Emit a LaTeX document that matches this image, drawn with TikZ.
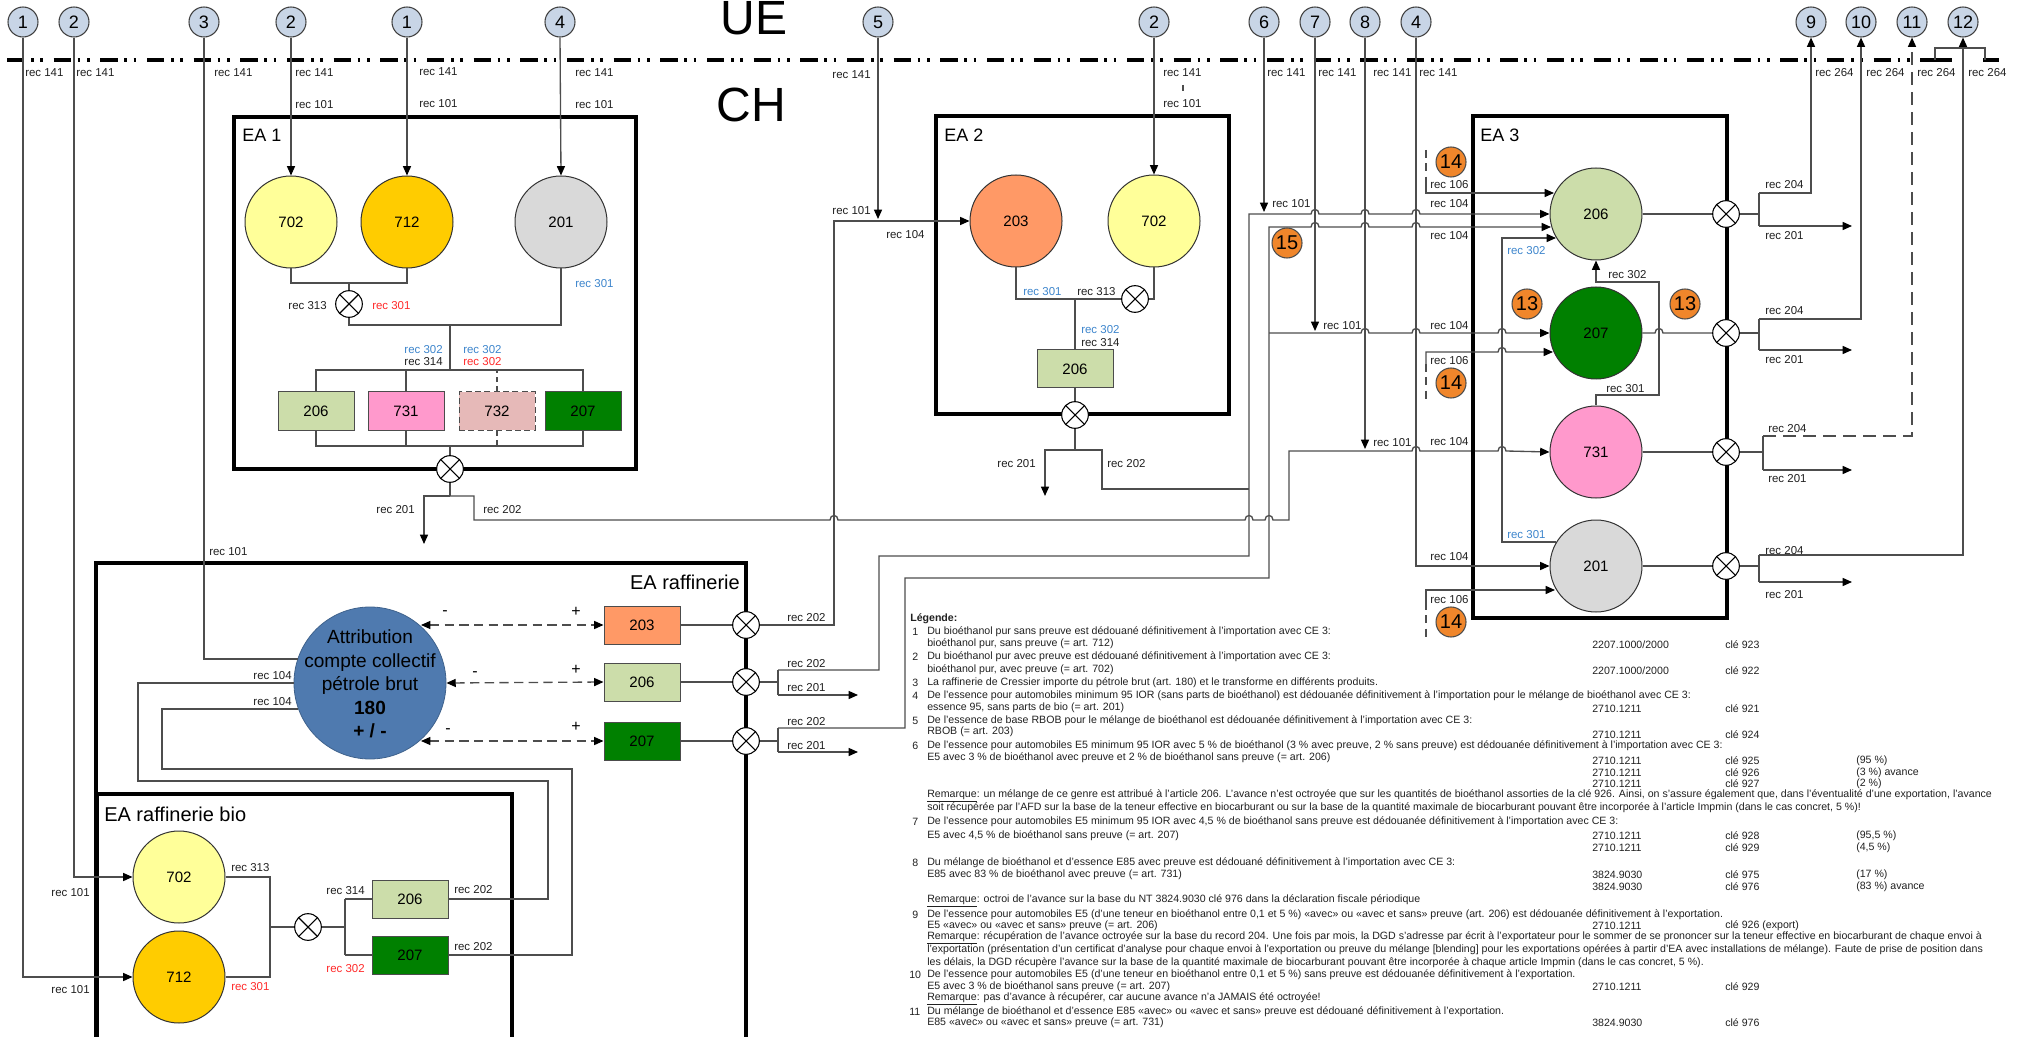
\documentclass[tikz,border=0pt]{standalone}
\usepackage{fontspec}
\setmainfont{Liberation Sans}
\usetikzlibrary{arrows.meta}
\definecolor{topc}{HTML}{C8D5E6}
\definecolor{yel}{HTML}{FFFF99}
\definecolor{gold}{HTML}{FFCC00}
\definecolor{gry}{HTML}{D9D9D9}
\definecolor{salm}{HTML}{FF9966}
\definecolor{lgr}{HTML}{CCDDAA}
\definecolor{dgr}{HTML}{008000}
\definecolor{pnk}{HTML}{FF99CC}
\definecolor{dpk}{HTML}{E6B9B8}
\definecolor{attrc}{HTML}{4F7AAF}
\definecolor{orng}{HTML}{F0862B}
\definecolor{lblue}{HTML}{3D85CC}
\definecolor{lred}{HTML}{FF2A2A}
\definecolor{lnc}{HTML}{4D4D4D}
\definecolor{txtc}{HTML}{202020}
\newcounter{lbc}
\newcommand\lbw[3][]{\stepcounter{lbc}\node[lbl,anchor=west,#1] (lab\thelbc) at (#2) {#3};}
\newcommand\lbe[3][]{\stepcounter{lbc}\node[lbl,anchor=east,#1] (lab\thelbc) at (#2) {#3};}
\newcommand\legt[3]{\stepcounter{lbc}\node[leg] (leg\thelbc) at (#1,#2) {#3};}
\newcommand\jmpr[2]{-- ({#1-4},#2) .. controls ({#1-4},{#2-6}) and ({#1+4},{#2-6}) .. ({#1+4},#2)}
\begin{document}
\begin{tikzpicture}[x=0.75pt,y=-0.75pt,
  font=\fontsize{8.6}{10}\selectfont,
  conn/.style={draw=lnc, line width=1pt},
  arr/.style={conn, -{Triangle[length=7pt,width=6pt,color=black]}},
  dar/.style={conn, dash pattern=on 7pt off 4pt, {Triangle[length=7pt,width=6pt,color=black]}-{Triangle[length=7pt,width=6pt,color=black]}},
  lbl/.style={inner sep=0pt, font=\fontsize{8.6}{10}\selectfont, text=txtc},
  bl/.style={text=lblue}, rd/.style={text=lred},
  topcirc/.style={circle, draw=black!75, line width=0.8pt, fill=topc, minimum size=22.5pt, inner sep=0pt, font=\fontsize{13.5}{14}\selectfont},
  art/.style={circle, draw=black!80, line width=0.75pt, minimum size=69pt, inner sep=0pt, font=\fontsize{11.3}{12}\selectfont},
  artbox/.style={rectangle, draw=black!70, line width=0.75pt, minimum width=57pt, minimum height=28.5pt, inner sep=0pt, font=\fontsize{11.3}{12}\selectfont},
  mix/.style={circle, draw=black, line width=0.8pt, fill=white, minimum size=20pt, inner sep=0pt,
    path picture={\draw[black, line width=0.8pt] (path picture bounding box.north west) -- (path picture bounding box.south east) (path picture bounding box.north east) -- (path picture bounding box.south west);}},
  ea/.style={draw=black, line width=3.2pt},
  ealbl/.style={inner sep=0pt, font=\fontsize{13.5}{14}\selectfont},
  eabig/.style={inner sep=0pt, font=\fontsize{15}{15}\selectfont},
  orc/.style={circle, draw=black!70, line width=0.8pt, fill=orng, minimum size=22.5pt, inner sep=0pt, font=\fontsize{15}{15}\selectfont},
  leg/.style={inner sep=0pt, anchor=west, font=\fontsize{7.95}{8.5}\selectfont, text=txtc},
  pm/.style={inner sep=0pt, font=\fontsize{12}{12}\selectfont}
]
\useasboundingbox (0,0) rectangle (2020,1037);

% ---------- border UE / CH ----------
\draw[line width=3.2pt, dash pattern=on 13pt off 5pt on 2pt off 5pt on 2pt off 8pt] (7,60) -- (1935,60);
\draw[line width=3.2pt] (1935,60) -- (1952,60) (1983,60) -- (1999,60);
\draw[conn] (1935,60) -- (1935,48) -- (1985,48) -- (1985,60);
\node[inner sep=0pt, anchor=base, font=\fontsize{36}{36}\selectfont] (ue) at (754,35) {UE};
\node[inner sep=0pt, anchor=base, font=\fontsize{36}{36}\selectfont] (ch) at (751,122) {CH};

% ---------- top circles ----------
\node[topcirc] (t1a) at (23,22) {1};
\node[topcirc] (t2a) at (74,22) {2};
\node[topcirc] (t3) at (204,22) {3};
\node[topcirc] (t2b) at (291,22) {2};
\node[topcirc] (t1b) at (407,22) {1};
\node[topcirc] (t4a) at (560,22) {4};
\node[topcirc] (t5) at (878,22) {5};
\node[topcirc] (t2c) at (1154,22) {2};
\node[topcirc] (t6) at (1264,22) {6};
\node[topcirc] (t7) at (1315,22) {7};
\node[topcirc] (t8) at (1365,22) {8};
\node[topcirc] (t4b) at (1416,22) {4};
\node[topcirc] (t9) at (1811,22) {9};
\node[topcirc] (t10) at (1861,22) {10};
\node[topcirc] (t11) at (1912,22) {11};
\node[topcirc] (t12) at (1963,22) {12};

\lbw{25,73}{rec 141}
\lbw{76,73}{rec 141}
\lbw{214,73}{rec 141}
\lbw{295,73}{rec 141}\lbw{295,105}{rec 101}
\lbw{419,72}{rec 141}\lbw{419,104}{rec 101}
\lbw{575,73}{rec 141}\lbw{575,105}{rec 101}
\lbe{871,75}{rec 141}
\lbw{1163,73}{rec 141}\lbw{1163,104}{rec 101}
\draw[conn] (1183,85) -- (1183,91);
\lbw{1267,73}{rec 141}
\lbw{1318,73}{rec 141}
\lbw{1373,73}{rec 141}
\lbw{1419,73}{rec 141}
\lbw{1815,73}{rec 264}
\lbw{1866,73}{rec 264}
\lbw{1917,73}{rec 264}
\lbw{1968,73}{rec 264}

% ---------- EA 1 ----------
\draw[ea] (234,117) rectangle (636,469);
\node[ealbl, anchor=west] (lea1) at (242,135) {EA 1};
\node[art, fill=yel] (c702a) at (291,222) {702};
\node[art, fill=gold] (c712a) at (407,222) {712};
\node[art, fill=gry] (c201a) at (561,222) {201};
\draw[arr] (t2b.south) -- (c702a.north);
\draw[arr] (t1b.south) -- (c712a.north);
\draw[arr] (t4a.south) -- (c201a.north);
\node[mix] (x1) at (349,304) {};
\draw[conn] (c702a.south) -- (291,283) -| (c712a.south);
\draw[conn] (349,283) -- (x1.north);
\draw[conn] (x1.south) -- (349,325) -| (c201a.south);
\draw[conn] (450,325) -- (450,370);
\node[artbox, fill=lgr] (b206a) at (316,411) {206};
\node[artbox, fill=pnk] (b731a) at (406,411) {731};
\node[artbox, fill=dpk, dash pattern=on 4.5pt off 2.5pt] (b732a) at (497,411) {732};
\node[artbox, fill=dgr] (b207a) at (583,411) {207};
\draw[conn] (b206a.north) -- (316,370) -| (b207a.north);
\draw[conn] (b731a.north) -- (406,370);
\draw[conn, dash pattern=on 4pt off 3pt] (b732a.north) -- (497,370);
\draw[conn] (b206a.south) -- (316,446) -| (b207a.south);
\draw[conn] (b731a.south) -- (406,446);
\draw[conn, dash pattern=on 4pt off 3pt] (b732a.south) -- (497,446);
\node[mix] (x2) at (450,469) {};
\draw[conn] (450,446) -- (x2.north);
\draw[conn] (x2.south) -- (450,496);
\coordinate (e201a) at (424,544);
\draw[arr] (450,496) -| (e201a);
\node[art, fill=pnk] (c731c) at (1596,452) {731};
\draw[arr] (450,496) -| (474,520) \jmpr{834}{520} \jmpr{1249}{520} \jmpr{1269}{520} -- (1289,520) -- (1289,451) \jmpr{1416}{451} \jmpr{1502}{451} -- (c731c.west);
\lbe{327,306}{rec 313}
\lbw[rd]{372,306}{rec 301}
\lbw[bl]{575,284}{rec 301}
\lbe[bl]{443,350}{rec 302}
\lbe{443,362}{rec 314}
\lbw[bl]{463,350}{rec 302}
\lbw[rd]{463,362}{rec 302}
\lbe{415,510}{rec 201}
\lbw{483,510}{rec 202}

% ---------- EA 2 ----------
\draw[ea] (936,116) rectangle (1229,414);
\node[ealbl, anchor=west] (lea2) at (944,135) {EA 2};
\node[art, fill=salm] (c203) at (1016,221) {203};
\node[art, fill=yel] (c702b) at (1154,221) {702};
\draw[arr] (t2c.south) -- (c702b.north);
\coordinate (e5) at (878,219);
\draw[arr] (t5.south) -- (e5);
\node[mix] (x3) at (1135,299) {};
\draw[conn] (c203.south) |- (x3.west);
\draw[conn] (x3.east) -| (c702b.south);
\node[artbox, fill=lgr] (b206b) at (1075,369) {206};
\draw[conn] (1075,299) -- (b206b.north);
\node[mix] (x4) at (1075,415) {};
\draw[conn] (b206b.south) -- (x4.north);
\draw[conn] (x4.south) -- (1075,450);
\coordinate (e201b) at (1045,496);
\draw[arr] (1075,450) -| (e201b);
\draw[conn] (1075,450) -| (1102,489) -- (1249,489);
\lbe{871,211}{rec 101}
\lbw{886,235}{rec 104}
\lbw[bl]{1023,292}{rec 301}
\lbw{1077,292}{rec 313}
\lbw[bl]{1081,330}{rec 302}
\lbw{1081,343}{rec 314}
\lbe{1036,464}{rec 201}
\lbw{1107,464}{rec 202}

% ---------- EA 3 ----------
\draw[ea] (1473,116) rectangle (1727,618);
\node[ealbl, anchor=west] (lea3) at (1480,135) {EA 3};
\node[art, fill=lgr] (c206c) at (1596,214) {206};
\node[art, fill=dgr] (c207c) at (1596,333) {207};
\node[art, fill=gry] (c201c) at (1596,566) {201};
\node[mix] (xa) at (1726,214) {};
\node[mix] (xb) at (1726,333) {};
\node[mix] (xc) at (1726,452) {};
\node[mix] (xd) at (1726,566) {};
\draw[conn] (c206c.east) -- (xa.west);
\draw[conn] (c207c.east) \jmpr{1659}{333} -- (xb.west);
\draw[conn] (c731c.east) -- (xc.west);
\draw[conn] (c201c.east) -- (xd.west);
% outputs
\coordinate (o1) at (1852,226);
\coordinate (o2) at (1852,350);
\coordinate (o3) at (1852,470);
\coordinate (o4) at (1852,582);
\draw[conn] (xa.east) -- (1759,214); \draw[conn] (1759,193) -- (1759,226);
\draw[arr] (1759,193) -| (t9.south); \draw[arr] (1759,226) -- (o1);
\draw[conn] (xb.east) -- (1759,333); \draw[conn] (1759,319) -- (1759,350);
\draw[arr] (1759,319) -| (t10.south); \draw[arr] (1759,350) -- (o2);
\draw[conn] (xc.east) -- (1763,452); \draw[conn] (1763,436) -- (1763,470);
\draw[arr, dash pattern=on 10pt off 5pt] (1763,436) -| (t11.south); \draw[arr] (1763,470) -- (o3);
\draw[conn] (xd.east) -- (1759,566); \draw[conn] (1759,555) -- (1759,582);
\draw[arr] (1759,555) -| (t12.south); \draw[arr] (1759,582) -- (o4);
\lbw{1765,185}{rec 204}\lbw{1765,236}{rec 201}
\lbw{1765,311}{rec 204}\lbw{1765,360}{rec 201}
\lbw{1768,429}{rec 204}\lbw{1768,479}{rec 201}
\lbw{1765,551}{rec 204}\lbw{1765,595}{rec 201}
% inputs
\coordinate (e6) at (1264,212);
\coordinate (e7) at (1315,331);
\coordinate (e8) at (1365,449);
\draw[arr] (t6.south) -- (e6);
\draw[arr] (t7.south) -- (e7);
\draw[arr] (t8.south) -- (e8);
\draw[arr] (t4b.south) |- (c201c.west);
\draw[conn, dash pattern=on 6pt off 4pt] (1426,150) -- (1426,182);
\draw[arr] (1426,182) -- (1426,193) -- (1554,193);
\draw[conn, dash pattern=on 6pt off 4pt] (1426,364) -- (1426,402);
\draw[arr] (1426,364) -- (1426,352) \jmpr{1502}{352} -- (1553,352);
\draw[conn, dash pattern=on 6pt off 4pt] (1426,602) -- (1426,640);
\draw[arr] (1426,602) -- (1426,590) -- (1555,590);
\draw[arr] (1556,542) -- (1502,542) -- (1502,238) -- (1556,238);
\draw[arr] (c731c.north) -- (1596,395) -- (1659,395) -- (1659,282) -- (1596,282) -- (c206c.south);
\lbw{1430,185}{rec 106}
\lbw{1430,361}{rec 106}
\lbw{1430,600}{rec 106}
\lbw{1430,204}{rec 104}
\lbw{1430,236}{rec 104}
\lbw{1430,326}{rec 104}
\lbw{1430,442}{rec 104}
\lbw{1430,557}{rec 104}
\lbw{1272,204}{rec 101}
\lbw{1323,326}{rec 101}
\lbw{1373,443}{rec 101}
\lbw[bl]{1507,251}{rec 302}
\lbw[bl]{1507,535}{rec 301}
\lbw{1606,389}{rec 301}
\lbw{1608,275}{rec 302}
\node[orc] (o13a) at (1527,304) {13};
\node[orc] (o13b) at (1685,304) {13};
\node[orc] (o14a) at (1451,162) {14};
\node[orc] (o14b) at (1451,383) {14};
\node[orc] (o14c) at (1451,622) {14};
\node[orc] (o15) at (1287,243) {15};

% ---------- EA raffinerie ----------
\draw[ea] (96,1045) -- (96,563) -- (746,563) -- (746,1045);
\node[eabig, anchor=east] (lear) at (740,582) {EA raffinerie};
\node[circle, fill=attrc, draw=attrc!80!black, line width=0.6pt, minimum size=114pt, inner sep=0pt] (attr) at (370,683) {};
\node[align=center, inner sep=0pt, font=\fontsize{14.3}{17.6}\selectfont] (attrt) at (370,684) {Attribution\\compte collectif\\pétrole brut\\\textbf{180}\\\textbf{+ / -}};
\node[artbox, fill=salm] (b203) at (642,625) {203};
\node[artbox, fill=lgr] (b206r) at (642,682) {206};
\node[artbox, fill=dgr] (b207r) at (642,741) {207};
\node[mix] (xr1) at (746,625) {};
\node[mix] (xr2) at (746,682) {};
\node[mix] (xr3) at (746,741) {};
\draw[dar] (421,625) -- (b203.west);
\draw[dar] (attr.east) -- (b206r.west);
\draw[dar] (421,741) -- (b207r.west);
\node[pm] (m1) at (445,613) {-}; \node[pm] (p1) at (576,612) {+};
\node[pm] (m2) at (475,674) {-}; \node[pm] (p2) at (576,670) {+};
\node[pm] (m3) at (448,731) {-}; \node[pm] (p3) at (576,727) {+};
\draw[conn] (b203.east) -- (xr1.west);
\draw[conn] (b206r.east) -- (xr2.west);
\draw[conn] (b207r.east) -- (xr3.west);
\draw[arr] (xr1.east) -- (834,625) -- (834,221) -- (c203.west);
\draw[conn] (xr2.east) -- (778,682); \draw[conn] (778,670) -- (778,695);
\draw[arr] (778,670) -- (879,670) -- (879,556) -- (1249,556) -- (1249,214) \jmpr{1315}{214} \jmpr{1365}{214} \jmpr{1416}{214} -- (c206c.west);
\coordinate (e201r1) at (858,695);
\draw[arr] (778,695) -- (e201r1);
\draw[conn] (xr3.east) -- (778,741); \draw[conn] (778,728) -- (778,752);
\draw[arr] (778,728) -- (905,728) -- (905,578) -- (1269,578) -- (1269,227) \jmpr{1315}{227} \jmpr{1365}{227} \jmpr{1416}{227} -- (1551,227);
\draw[arr] (1269,333) \jmpr{1365}{333} \jmpr{1416}{333} \jmpr{1502}{333} -- (c207c.west);
\coordinate (e201r2) at (858,752);
\draw[arr] (778,752) -- (e201r2);
\lbw{787,618}{rec 202}
\lbw{787,664}{rec 202}
\lbw{787,688}{rec 201}
\lbw{787,722}{rec 202}
\lbw{787,746}{rec 201}
\draw[conn] (t3.south) |- (298,659);
\lbw{209,552}{rec 101}
\lbe{292,676}{rec 104}
\lbe{292,702}{rec 104}

% ---------- EA raffinerie bio ----------
\draw[ea] (97,1045) -- (97,794) -- (512,794) -- (512,1045);
\node[eabig, anchor=west] (leab) at (104,814) {EA raffinerie bio};
\node[art, fill=yel] (c702bio) at (179,877) {702};
\node[art, fill=gold] (c712bio) at (179,977) {712};
\draw[arr] (t2a.south) |- (c702bio.west);
\draw[arr] (t1a.south) |- (c712bio.west);
\draw[conn] (c702bio.east) -- (270,877) -- (270,977) -- (c712bio.east);
\node[mix] (xbio) at (308,927) {};
\draw[conn] (270,927) -- (xbio.west);
\draw[conn] (xbio.east) -- (345,927);
\draw[conn] (345,899) -- (345,955);
\node[artbox, fill=lgr] (b206bio) at (410,899) {206};
\node[artbox, fill=dgr] (b207bio) at (410,955) {207};
\draw[conn] (345,899) -- (b206bio.west);
\draw[conn] (345,955) -- (b207bio.west);
\draw[conn] (b206bio.east) -- (548,899) -- (548,781) -- (138,781) -- (138,683) -- (attr.west);
\draw[conn] (b207bio.east) -- (572,955) -- (572,769) -- (162,769) -- (162,709) -- (298,709);
\lbe{90,893}{rec 101}
\lbe{90,990}{rec 101}
\lbw{231,868}{rec 313}
\lbw[rd]{231,987}{rec 301}
\lbe{365,891}{rec 314}
\lbe[rd]{365,969}{rec 302}
\lbw{454,890}{rec 202}
\lbw{454,947}{rec 202}

% ---------- Legend ----------
\node[leg, font=\fontsize{7.95}{8.5}\selectfont\bfseries] (legh) at (910,619) {Légende:};
\legt{912}{632}{1}\legt{927}{632}{Du bioéthanol pur sans preuve est dédouané définitivement à l’importation avec CE 3:}
\legt{927}{644}{bioéthanol pur, sans preuve (= art. 712)}
\legt{1592}{645}{2207.1000/2000}\legt{1725}{645}{clé 923}
\legt{912}{657}{2}\legt{927}{657}{Du bioéthanol pur avec preuve est dédouané définitivement à l’importation avec CE 3:}
\legt{927}{670}{bioéthanol pur, avec preuve (= art. 702)}
\legt{1592}{671}{2207.1000/2000}\legt{1725}{671}{clé 922}
\legt{912}{683}{3}\legt{927}{683}{La raffinerie de Cressier importe du pétrole brut (art. 180) et le transforme en différents produits.}
\legt{912}{696}{4}\legt{927}{696}{De l’essence pour automobiles minimum 95 IOR (sans parts de bioéthanol) est dédouanée définitivement à l’importation pour le mélange de bioéthanol avec CE 3:}
\legt{927}{708}{essence 95, sans parts de bio (= art. 201)}
\legt{1592}{709}{2710.1211}\legt{1725}{709}{clé 921}
\legt{912}{721}{5}\legt{927}{721}{De l’essence de base RBOB pour le mélange de bioéthanol est dédouanée définitivement à l’importation avec CE 3:}
\legt{927}{732}{RBOB (= art. 203)}
\legt{1592}{735}{2710.1211}\legt{1725}{735}{clé 924}
\legt{912}{746}{6}\legt{927}{746}{De l’essence pour automobiles E5 minimum 95 IOR avec 5 \% de bioéthanol (3 \% avec preuve, 2 \% sans preuve) est dédouanée définitivement à l’importation avec CE 3:}
\legt{927}{758}{E5 avec 3 \% de bioéthanol avec preuve et 2 \% de bioéthanol sans preuve (= art. 206)}
\legt{1592}{761}{2710.1211}\legt{1725}{761}{clé 925}\legt{1856}{761}{(95 \%)}
\legt{1592}{773}{2710.1211}\legt{1725}{773}{clé 926}\legt{1856}{773}{(3 \%) avance}
\legt{1592}{784}{2710.1211}\legt{1725}{784}{clé 927}\legt{1856}{784}{(2 \%)}
\legt{927}{796}{\underline{Remarque}: un mélange de ce genre est attribué à l’article 206. L’avance n’est octroyée que sur les quantités de bioéthanol assorties de la clé 926. Ainsi, on s’assure également que, dans l’éventualité d’une exportation, l’avance}
\legt{927}{808}{soit récupérée par l’AFD sur la base de la teneur effective en biocarburant ou sur la base de la quantité maximale de biocarburant pouvant être incorporée à l’article Impmin (dans le cas concret, 5 \%)!}
\legt{912}{822}{7}\legt{927}{822}{De l’essence pour automobiles E5 minimum 95 IOR avec 4,5 \% de bioéthanol sans preuve est dédouanée définitivement à l’importation avec CE 3:}
\legt{927}{836}{E5 avec 4,5 \% de bioéthanol sans preuve (= art. 207)}
\legt{1592}{836}{2710.1211}\legt{1725}{836}{clé 928}\legt{1856}{836}{(95,5 \%)}
\legt{1592}{848}{2710.1211}\legt{1725}{848}{clé 929}\legt{1856}{848}{(4,5 \%)}
\legt{912}{863}{8}\legt{927}{863}{Du mélange de bioéthanol et d’essence E85 avec preuve est dédouané définitivement à l’importation avec CE 3:}
\legt{927}{875}{E85 avec 83 \% de bioéthanol avec preuve (= art. 731)}
\legt{1592}{875}{3824.9030}\legt{1725}{875}{clé 975}\legt{1856}{875}{(17 \%)}
\legt{1592}{887}{3824.9030}\legt{1725}{887}{clé 976}\legt{1856}{887}{(83 \%) avance}
\legt{927}{901}{\underline{Remarque}: octroi de l’avance sur la base du NT 3824.9030 clé 976 dans la déclaration fiscale périodique}
\legt{912}{915}{9}\legt{927}{915}{De l’essence pour automobiles E5 (d’une teneur en bioéthanol entre 0,1 et 5 \%) «avec» ou «avec et sans» preuve (art. 206) est dédouanée définitivement à l’exportation.}
\legt{927}{926}{E5 «avec» ou «avec et sans» preuve (= art. 206)}
\legt{1592}{926}{2710.1211}\legt{1725}{926}{clé 926 (export)}
\legt{927}{938}{\underline{Remarque}: récupération de l’avance octroyée sur la base du record 204. Une fois par mois, la DGD s’adresse par écrit à l’exportateur pour le sommer de se prononcer sur la teneur effective en biocarburant de chaque envoi à}
\legt{927}{950}{l’exportation (présentation d’un certificat d’analyse pour chaque envoi à l’exportation ou preuve du mélange [blending] pour les exportations opérées à partir d’EA avec installations de mélange). Faute de prise de position dans}
\legt{927}{963}{les délais, la DGD récupère l’avance sur la base de la quantité maximale de biocarburant pouvant être incorporée à chaque article Impmin (dans le cas concret, 5 \%).}
\legt{909}{975}{10}\legt{927}{975}{De l’essence pour automobiles E5 (d’une teneur en bioéthanol entre 0,1 et 5 \%) sans preuve est dédouanée définitivement à l’exportation.}
\legt{927}{987}{E5 avec 3 \% de bioéthanol sans preuve (= art. 207)}
\legt{1592}{987}{2710.1211}\legt{1725}{987}{clé 929}
\legt{927}{999}{\underline{Remarque}: pas d’avance à récupérer, car aucune avance n’a JAMAIS été octroyée!}
\legt{909}{1012}{11}\legt{927}{1012}{Du mélange de bioéthanol et d’essence E85 «avec» ou «avec et sans» preuve est dédouané définitivement à l’exportation.}
\legt{927}{1023}{E85 «avec» ou «avec et sans» preuve (= art. 731)}
\legt{1592}{1023}{3824.9030}\legt{1725}{1023}{clé 976}
\end{tikzpicture}
\end{document}
